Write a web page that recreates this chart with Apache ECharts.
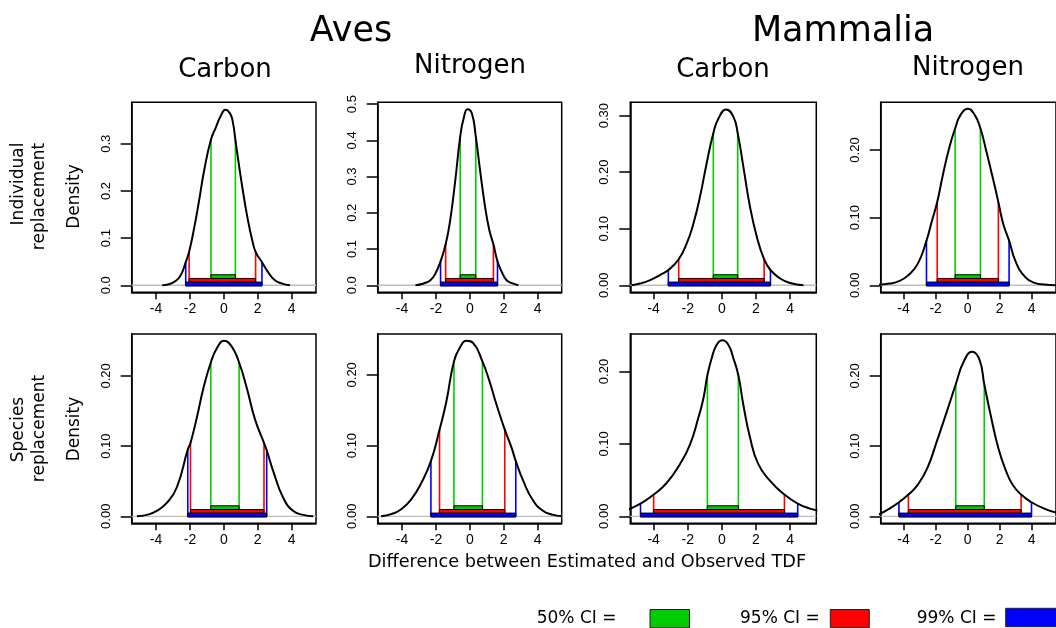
<!DOCTYPE html>
<html><head><meta charset="utf-8">
<script src="https://cdn.jsdelivr.net/npm/echarts@6/dist/echarts.min.js"></script>
<style>html,body{margin:0;padding:0;background:#fff}#c{width:1056px;height:628px}</style>
</head><body><div id="c"></div>
<script>
// ---------- data ----------
const classTitles = ['Aves', 'Mammalia'];
const isotopeTitles = ['Carbon', 'Nitrogen', 'Carbon', 'Nitrogen'];
const rowLabelLines = [['Individual', 'replacement'], ['Species', 'replacement']];
const yAxisTitle = 'Density';
const xAxisTitle = 'Difference between Estimated and Observed TDF';
const legendLabels = ['50% CI =', '95% CI =', '99% CI ='];
const xTicks = [-4, -2, 0, 2, 4];
const yTicksPanel = [
  [0, 0.1, 0.2, 0.3], [0, 0.1, 0.2, 0.3, 0.4, 0.5], [0, 0.1, 0.2, 0.3], [0, 0.1, 0.2],
  [0, 0.1, 0.2], [0, 0.1, 0.2], [0, 0.1, 0.2], [0, 0.1, 0.2]
];
const yDecimals = [1, 1, 2, 2, 2, 2, 2, 2];
const xLimits = [
  [-5.44, 5.44], [-5.44, 5.42], [-5.37, 5.54], [-5.43, 5.52],
  [-5.44, 5.44], [-5.44, 5.42], [-5.37, 5.54], [-5.43, 5.52]
];
const yUpper = [0.388, 0.505, 0.3237, 0.2706, 0.2596, 0.2577, 0.2518, 0.2596];

const densAvesCarbonInd = [[-3.64,0],[-3.24,0.002],[-2.85,0.009],[-2.55,0.021],[-2.25,0.049],[-2.05,0.071],[-1.76,0.12],[-1.46,0.18],[-1.16,0.244],[-0.76,0.309],[-0.47,0.335],[-0.17,0.36],[0.09,0.372],[0.37,0.364],[0.53,0.346],[0.68,0.309],[0.88,0.258],[1.12,0.201],[1.42,0.138],[1.68,0.095],[1.875,0.071],[2.25,0.049],[2.61,0.028],[3.0,0.011],[3.4,0.004],[3.9,0]];
const densAvesNitrogenInd = [[-3.21,0],[-2.73,0.005],[-2.33,0.014],[-2.04,0.032],[-1.73,0.066],[-1.43,0.113],[-1.16,0.18],[-0.86,0.29],[-0.57,0.41],[-0.37,0.46],[-0.14,0.486],[0.12,0.474],[0.35,0.41],[0.6,0.318],[0.9,0.216],[1.15,0.152],[1.39,0.113],[1.63,0.066],[1.88,0.037],[2.17,0.014],[2.53,0.005],[2.86,0]];
const densMammCarbonInd = [[-5.3,0],[-4.8,0.003],[-4.21,0.009],[-3.63,0.018],[-3.14,0.027],[-2.53,0.046],[-2.06,0.074],[-1.67,0.109],[-1.28,0.157],[-0.89,0.216],[-0.5,0.269],[-0.2,0.295],[0.25,0.311],[0.68,0.298],[0.93,0.269],[1.26,0.21],[1.65,0.139],[2.05,0.086],[2.48,0.046],[2.85,0.027],[3.42,0.012],[4.0,0.004],[4.79,0]];
const densMammNitrogenInd = [[-5.6,0.0008],[-4.88,0.0025],[-4.29,0.006],[-3.7,0.015],[-3.11,0.032],[-2.57,0.066],[-2.22,0.096],[-1.9,0.123],[-1.53,0.165],[-1.13,0.205],[-0.78,0.232],[-0.44,0.252],[0.01,0.261],[0.44,0.252],[0.8,0.232],[1.13,0.202],[1.53,0.163],[1.92,0.123],[2.22,0.091],[2.59,0.066],[3.0,0.035],[3.6,0.012],[4.19,0.0035],[4.78,0.001],[5.57,0]];
const densAvesCarbonSp = [[-5.13,0],[-4.55,0.002],[-3.96,0.0076],[-3.37,0.019],[-2.78,0.041],[-2.13,0.095],[-1.97,0.1045],[-1.6,0.14],[-1.2,0.183],[-0.77,0.219],[-0.42,0.239],[0.01,0.25],[0.46,0.242],[0.9,0.219],[1.35,0.183],[1.84,0.138],[2.37,0.1045],[2.53,0.094],[2.92,0.064],[3.51,0.026],[4.1,0.0076],[4.69,0.002],[5.28,0]];
const densAvesNitrogenSp = [[-5.24,0],[-4.64,0.003],[-4.05,0.01],[-3.46,0.024],[-2.87,0.047],[-2.3,0.078],[-1.79,0.1225],[-1.39,0.162],[-0.94,0.219],[-0.6,0.238],[-0.21,0.248],[0.19,0.245],[0.74,0.219],[1.17,0.19],[1.57,0.158],[2.06,0.1225],[2.46,0.097],[2.71,0.078],[3.15,0.05],[3.74,0.022],[4.33,0.0075],[4.92,0.002],[5.41,0]];
const densMammCarbonSp = [[-5.6,0.0085],[-4.77,0.0174],[-4.0,0.03],[-3.24,0.046],[-2.46,0.072],[-1.87,0.099],[-1.38,0.136],[-1.08,0.163],[-0.85,0.1945],[-0.6,0.218],[-0.3,0.237],[0.03,0.243],[0.38,0.237],[0.68,0.218],[0.97,0.1945],[1.26,0.154],[1.66,0.108],[2.14,0.072],[2.83,0.049],[3.67,0.03],[4.45,0.0174],[5.17,0.0106],[5.6,0.008]];
const densMammNitrogenSp = [[-5.6,0.002],[-4.88,0.011],[-4.29,0.02],[-3.7,0.031],[-3.11,0.045],[-2.51,0.069],[-1.92,0.107],[-1.33,0.147],[-0.74,0.188],[-0.25,0.22],[0.29,0.2345],[0.74,0.223],[1.04,0.188],[1.43,0.145],[1.92,0.097],[2.41,0.064],[2.81,0.045],[3.34,0.031],[3.99,0.02],[4.78,0.011],[5.57,0.005]];
const densities = [densAvesCarbonInd, densAvesNitrogenInd, densMammCarbonInd, densMammNitrogenInd,
                   densAvesCarbonSp, densAvesNitrogenSp, densMammCarbonSp, densMammNitrogenSp];

// CI bounds [lower, upper] and density heights at those bounds [left, right]
const ci50 = [[-0.76,0.68],[-0.57,0.35],[-0.5,0.93],[-0.78,0.8],[-0.77,0.9],[-0.94,0.74],[-0.85,0.97],[-0.74,1.04]];
const ci95 = [[-2.05,1.875],[-1.43,1.39],[-2.53,2.48],[-1.9,1.92],[-1.97,2.37],[-1.79,2.06],[-4.0,3.67],[-3.7,3.34]];
const ci99 = [[-2.25,2.25],[-1.73,1.63],[-3.14,2.85],[-2.57,2.59],[-2.13,2.53],[-2.3,2.71],[-4.77,4.45],[-4.29,3.99]];
const ci50Height = [[0.309,0.309],[0.41,0.41],[0.269,0.269],[0.232,0.232],[0.219,0.219],[0.219,0.219],[0.1945,0.1945],[0.188,0.188]];
const ci95Height = [[0.071,0.071],[0.113,0.113],[0.046,0.046],[0.123,0.123],[0.1045,0.1045],[0.1225,0.1225],[0.03,0.03],[0.031,0.031]];
const ci99Height = [[0.049,0.049],[0.066,0.066],[0.027,0.027],[0.066,0.066],[0.095,0.094],[0.078,0.078],[0.0174,0.0174],[0.02,0.02]];

// ---------- layout & style ----------
const colLeft = [131.7, 377.7, 630.3, 880.7];
const colWidth = [184.3, 184, 186, 185];
const rowTop = [102.3, 334];
const rowHeight = [190, 189.3];
const ciColors = ['#00cd00', '#ff0000', '#0000ff'];
const bandOffsets = [[-10.5, -6.8], [-6.8, -3.2], [-3.2, 0.8]];
const FONT = 'DejaVu Sans';

const grids = [], xAxes = [], yAxes = [], series = [];
for (let i = 0; i < 8; i++) {
  const r = Math.floor(i / 4), c = i % 4;
  grids.push({left: colLeft[c], top: rowTop[r], width: colWidth[c], height: rowHeight[r],
    show: true, borderColor: '#000', borderWidth: 1.5, backgroundColor: 'transparent', containLabel: false});
  xAxes.push({type: 'value', gridIndex: i, min: xLimits[i][0], max: xLimits[i][1], position: 'bottom',
    axisLine: {show: true, onZero: false, lineStyle: {color: '#000', width: 1.5}}, splitLine: {show: false},
    axisTick: {show: true, inside: false, customValues: xTicks, length: 7, lineStyle: {color: '#000', width: 1.5}},
    axisLabel: {customValues: xTicks, margin: 10, fontSize: 14, color: '#000', fontFamily: 'Liberation Sans'}});
  const yMin = -yUpper[i] * 0.04 / 1.04;
  const dec = yDecimals[i];
  yAxes.push({type: 'value', gridIndex: i, min: yMin, max: yUpper[i], position: 'left',
    axisLine: {show: true, onZero: false, lineStyle: {color: '#000', width: 1.5}}, splitLine: {show: false},
    axisTick: {show: true, inside: false, customValues: yTicksPanel[i], length: 11, lineStyle: {color: '#000', width: 1.5}},
    axisLabel: {customValues: yTicksPanel[i], rotate: 90, margin: 19, fontSize: 13, color: '#000',
      fontFamily: '"Liberation Sans Narrow", "Liberation Sans"', formatter: v => v.toFixed(dec)}});

  // zero reference line
  series.push({type: 'line', xAxisIndex: i, yAxisIndex: i, silent: true, showSymbol: false, z: 1,
    data: [[xLimits[i][0], 0], [xLimits[i][1], 0]], lineStyle: {color: '#bebebe', width: 1.3}});
  // CI vertical lines
  const vData = [];
  [[ci50, ci50Height], [ci95, ci95Height], [ci99, ci99Height]].forEach(([ci, h], lvl) => {
    vData.push([ci[i][0], h[i][0], lvl]);
    vData.push([ci[i][1], h[i][1], lvl]);
  });
  series.push({type: 'custom', xAxisIndex: i, yAxisIndex: i, silent: true, z: 2,
    encode: {x: 0, y: 1}, data: vData,
    renderItem: (params, api) => {
      const x = api.value(0), top = api.value(1), lvl = api.value(2);
      const p0 = api.coord([x, 0]), p1 = api.coord([x, top]);
      return {type: 'line', shape: {x1: p0[0], y1: p0[1], x2: p1[0], y2: p1[1]},
        style: {stroke: ciColors[lvl], lineWidth: 1.6}};
    }});
  // density curve
  series.push({type: 'line', xAxisIndex: i, yAxisIndex: i, silent: true, showSymbol: false, z: 3,
    smooth: 0.5, clip: true, data: densities[i],
    lineStyle: {color: '#000', width: 2}});
  // CI bars
  series.push({type: 'custom', xAxisIndex: i, yAxisIndex: i, silent: true, z: 4,
    encode: {x: [0, 1], y: 2},
    data: [[ci99[i][0], ci99[i][1], 0, 2], [ci95[i][0], ci95[i][1], 0, 1], [ci50[i][0], ci50[i][1], 0, 0]],
    renderItem: (params, api) => {
      const lo = api.value(0), hi = api.value(1), lvl = api.value(3);
      const a = api.coord([lo, 0]), b = api.coord([hi, 0]);
      const band = bandOffsets[lvl];
      return {type: 'rect', shape: {x: a[0], y: a[1] + band[0], width: b[0] - a[0], height: band[1] - band[0]},
        style: {fill: ciColors[lvl], stroke: '#000', lineWidth: 1}};
    }});
}

const txt = (text, x, y, size, extra) => Object.assign({type: 'text', x, y, silent: true,
  style: {text, fontSize: size, fontFamily: FONT, fill: '#000', align: 'center', verticalAlign: 'middle'}}, extra || {});
const ROT = {rotation: Math.PI / 2};

const graphic = [
  txt(classTitles[0], 351, 32, 35),
  txt(classTitles[1], 843, 32, 35),
  txt(isotopeTitles[0], 225, 70, 26),
  txt(isotopeTitles[1], 470, 66, 26),
  txt(isotopeTitles[2], 723, 70, 26),
  txt(isotopeTitles[3], 968, 68, 26),
  txt(rowLabelLines[0][0], 19, 184, 17, ROT),
  txt(rowLabelLines[0][1], 40, 196.5, 17, ROT),
  txt(rowLabelLines[1][0], 19, 429.5, 17, ROT),
  txt(rowLabelLines[1][1], 40, 428.5, 17, ROT),
  txt(yAxisTitle, 75, 196.5, 17, ROT),
  txt(yAxisTitle, 75, 429, 17, ROT),
  txt(xAxisTitle, 587, 562, 17.7)
];
const legendTextX = [536.7, 740, 916.7];
const legendBox = [[650, 609.5, 39.5, 18.2], [830.3, 609.5, 39, 18.2], [1005.7, 608.3, 60, 18.4]];
legendLabels.forEach((t, k) => {
  graphic.push({type: 'text', x: legendTextX[k], y: 618.5, silent: true,
    style: {text: t, fontSize: 17, fontFamily: FONT, fill: '#000', align: 'left', verticalAlign: 'middle'}});
  const b = legendBox[k];
  graphic.push({type: 'rect', silent: true, shape: {x: b[0], y: b[1], width: b[2], height: b[3]},
    style: {fill: ciColors[k], stroke: '#222', lineWidth: 1}});
});

const chart = echarts.init(document.getElementById('c'), null, {renderer: 'canvas'});
chart.setOption({animation: false, backgroundColor: '#fff', grid: grids, xAxis: xAxes, yAxis: yAxes, series, graphic});
</script>
</body></html>
